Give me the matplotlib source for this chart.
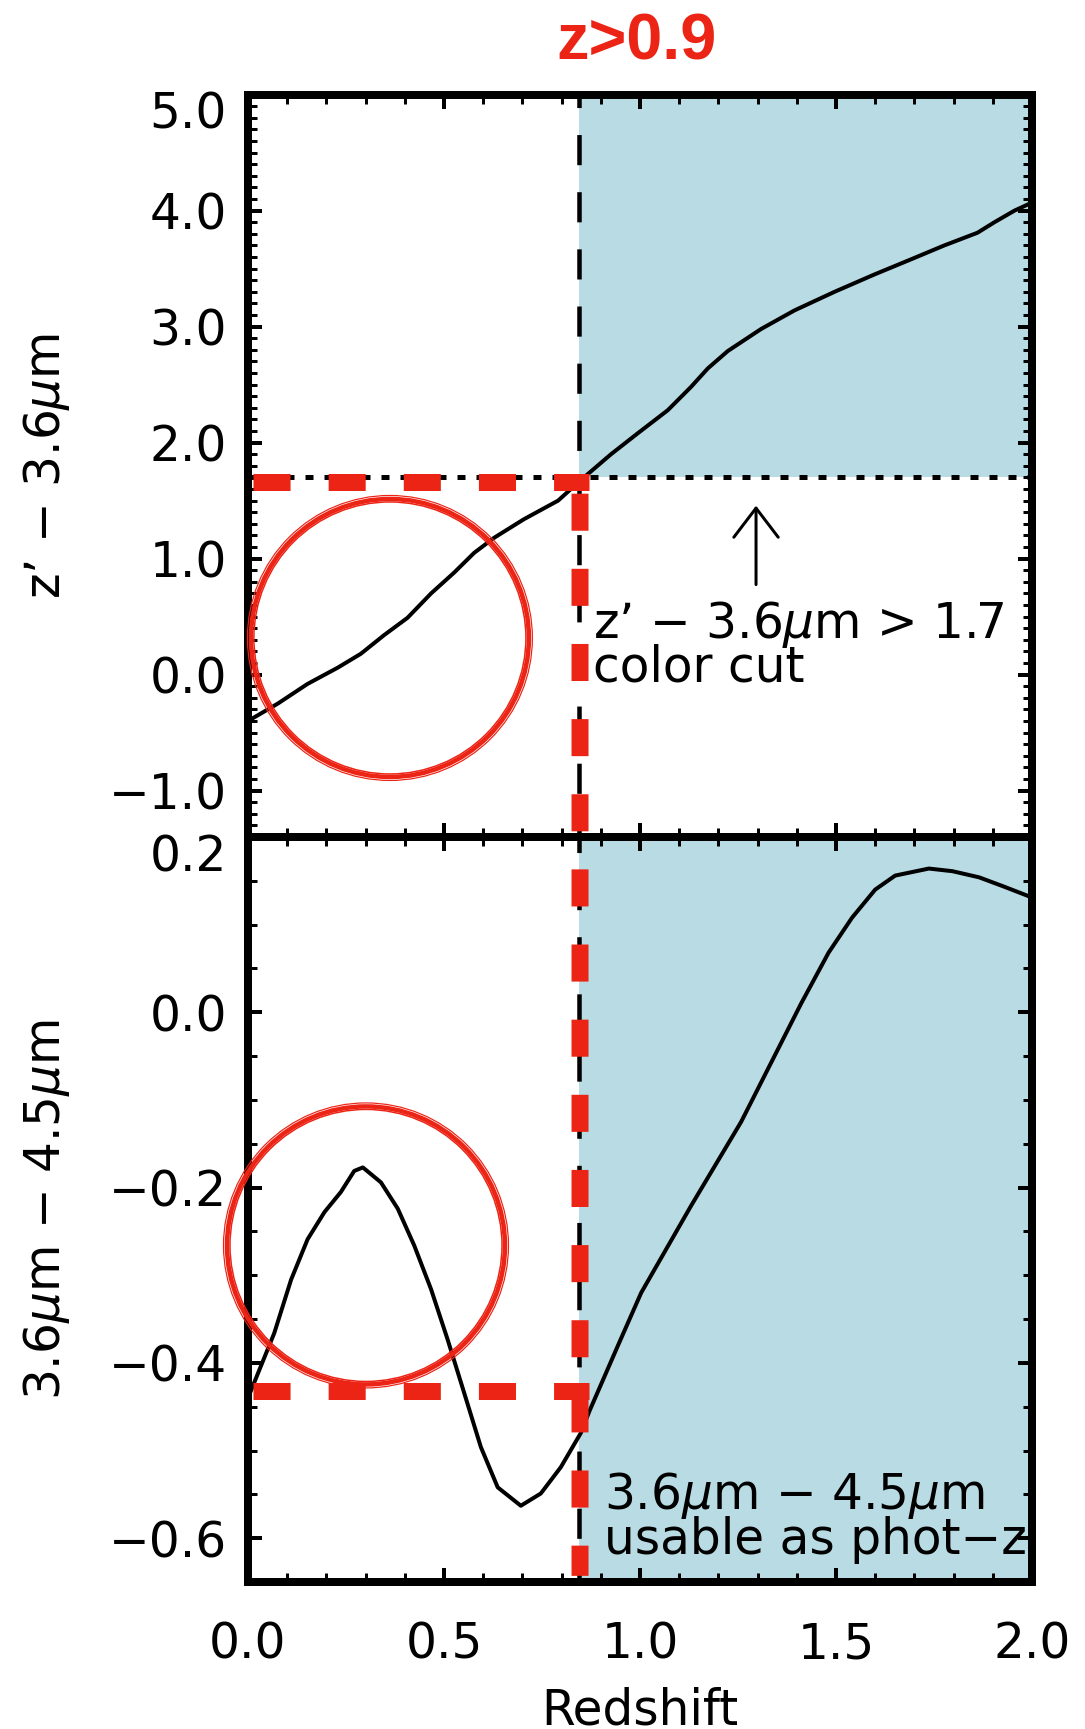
import matplotlib
matplotlib.use("Agg")
import matplotlib.pyplot as plt
from matplotlib.patches import ConnectionPatch
from matplotlib.ticker import MultipleLocator, FuncFormatter
from matplotlib.transforms import ScaledTranslation

# ---- data ----
z_top = [0.000, 0.076, 0.152, 0.229, 0.288, 0.347, 0.407, 0.467, 0.526, 0.577,
         0.628, 0.704, 0.791, 0.850, 0.926, 0.994, 1.071, 1.130, 1.173, 1.224,
         1.309, 1.394, 1.496, 1.598, 1.691, 1.776, 1.861, 1.904, 1.955, 2.000]
zp_36 = [-0.40, -0.25, -0.08, 0.06, 0.18, 0.34, 0.49, 0.70, 0.88, 1.05,
         1.18, 1.34, 1.50, 1.68, 1.90, 2.08, 2.28, 2.48, 2.64, 2.79,
         2.98, 3.14, 3.30, 3.45, 3.58, 3.70, 3.81, 3.90, 4.00, 4.07]

z_bot = [0.000, 0.067, 0.110, 0.152, 0.195, 0.237, 0.271, 0.293, 0.339, 0.382,
         0.424, 0.467, 0.509, 0.552, 0.594, 0.637, 0.696, 0.747, 0.798, 0.849,
         0.871, 0.943, 1.003, 1.130, 1.258, 1.411, 1.481, 1.541, 1.600, 1.651,
         1.737, 1.797, 1.865, 1.925, 2.000]
c36_45 = [-0.440, -0.366, -0.305, -0.259, -0.228, -0.205, -0.181, -0.177, -0.194, -0.224,
          -0.266, -0.316, -0.373, -0.435, -0.496, -0.542, -0.563, -0.549, -0.519, -0.480,
          -0.455, -0.381, -0.320, -0.221, -0.125, 0.010, 0.068, 0.108, 0.140, 0.156,
          0.164, 0.161, 0.154, 0.144, 0.131]

z_cut = 0.845          # redshift where the shaded region starts
color_cut = 1.7        # z' - 3.6um colour cut
red_top_y = 1.66       # red dashed guide, top panel
red_bot_y = -0.432     # red dashed guide, bottom panel
red_x_range = [0.012, 0.870]
red_v_range = [1.56, -0.643]
circle_top = (0.362, 0.316)
circle_bot = (0.301, -0.266)
arrow_x = 1.296
arrow_y = [0.776, 1.457]

x_ticks = [0.0, 0.5, 1.0, 1.5, 2.0]
y_ticks_top = [-1.0, 0.0, 1.0, 2.0, 3.0, 4.0, 5.0]
y_ticks_bot = [-0.6, -0.4, -0.2, 0.0, 0.2]

# ---- style ----
PX = 72 / 100.0
RED = "#EC2415"
BLUE = "#B9DBE3"
plt.rcParams["font.family"] = ["DejaVu Sans"]
plt.rcParams["mathtext.fontset"] = "dejavusans"

fig = plt.figure(figsize=(10.85, 17.29), dpi=100)
ax1 = fig.add_axes([0.22857, 0.51591, 0.72258, 0.42932])
ax2 = fig.add_axes([0.22857, 0.08502, 0.72258, 0.43088])

fmt = FuncFormatter(lambda v, p: f"{v:.1f}".replace("-", "\u2212"))

for ax in (ax1, ax2):
    ax.set_xlim(0, 2.0)
    ax.set_xticks(x_ticks)
    ax.xaxis.set_minor_locator(MultipleLocator(0.1))
    ax.xaxis.set_major_formatter(fmt)
    ax.yaxis.set_major_formatter(fmt)
    for s in ax.spines.values():
        s.set_linewidth(8 * PX)
        s.set_zorder(6)
    ax.tick_params(which="both", direction="in", top=True, right=True,
                   labelsize=35, colors="black")
    ax.tick_params(which="major", length=14 * PX, width=4 * PX)
    ax.tick_params(which="minor", length=9 * PX, width=3 * PX)
    ax.tick_params(axis="x", pad=38 * PX)
    ax.tick_params(axis="y", pad=21 * PX)

# top panel
ax1.set_ylim(-1.4, 5.0)
ax1.set_yticks(y_ticks_top)
ax1.yaxis.set_minor_locator(MultipleLocator(0.1))
ax1.tick_params(labelbottom=False)
ax1.fill_between([z_cut, 2.0], color_cut, 5.0, color=BLUE, lw=0, zorder=0)
ax1.axvline(z_cut, color="black", lw=4.5 * PX, ls=(3, (6.7, 6.0)), zorder=2)
ax1.axhline(color_cut, color="black", lw=5 * PX, ls=(0, (1.6, 2.2)), zorder=2)
ax1.plot(z_top, zp_36, color="black", lw=4 * PX, zorder=3)
ax1.set_ylabel("z\u2019 \u2212 3.6$\\mu$m", fontsize=35)
ax1.yaxis.set_label_coords(-0.225, 0.5)
ax1.annotate("", xy=(arrow_x, arrow_y[1]), xytext=(arrow_x, arrow_y[0]),
             arrowprops=dict(arrowstyle="->, head_length=0.42, head_width=0.32",
                             lw=3 * PX, color="black", mutation_scale=50,
                             shrinkA=0, shrinkB=0))
ax1.text(0.880, 0.313, "z\u2019 \u2212 3.6$\\mu$m > 1.7", fontsize=35, zorder=4)
ax1.text(0.880, -0.06, "color cut", fontsize=35, zorder=4)

# bottom panel
ax2.set_ylim(-0.65, 0.2)
ax2.set_yticks(y_ticks_bot)
ax2.yaxis.set_minor_locator(MultipleLocator(0.05))
ax2.axvspan(z_cut, 2.0, color=BLUE, lw=0, zorder=0)
ax2.axvline(z_cut, color="black", lw=4.5 * PX, ls=(3, (6.7, 6.0)), zorder=2)
ax2.plot(z_bot, c36_45, color="black", lw=4 * PX, zorder=3)
ax2.set_ylabel("3.6$\\mu$m \u2212 4.5$\\mu$m", fontsize=35)
ax2.yaxis.set_label_coords(-0.225, 0.5)
ax2.set_xlabel("Redshift", fontsize=35, va="top")
ax2.xaxis.set_label_coords(0.5, -0.14)
ax2.text(0.907, -0.567, "3.6$\\mu$m \u2212 4.5$\\mu$m", fontsize=35, zorder=4)
ax2.text(0.907, -0.618, "usable as phot\u2212z", fontsize=35, zorder=4)

# the topmost y label of each panel sits a little lower, inside the frame
fig.canvas.draw()
shift = ScaledTranslation(0, -15 / 100.0, fig.dpi_scale_trans)
for ax in (ax1, ax2):
    top_lbl = ax.yaxis.get_major_ticks()[-1].label1
    top_lbl.set_transform(top_lbl.get_transform() + shift)

# red overlay: dashed guides and hand-drawn circles
red_lw = 17 * PX
red_ls = (0, (2.18, 2.24))
ax1.plot(red_x_range, [red_top_y] * 2, color=RED, lw=red_lw, ls=red_ls,
         clip_on=False, zorder=7)
ax2.plot(red_x_range, [red_bot_y] * 2, color=RED, lw=red_lw, ls=red_ls,
         clip_on=False, zorder=7)
con = ConnectionPatch(xyA=(z_cut + 0.002, red_v_range[0]), coordsA="data", axesA=ax1,
                      xyB=(z_cut + 0.002, red_v_range[1]), coordsB="data", axesB=ax2,
                      color=RED, lw=red_lw, ls=red_ls, shrinkA=0, shrinkB=0,
                      capstyle="butt", zorder=7)
fig.add_artist(con)

for ax, c in ((ax1, circle_top), (ax2, circle_bot)):
    for d, w in ((278, 4.5), (272, 1.5), (285, 1.2), (276, 1.0)):
        ax.scatter([c[0]], [c[1]], s=(d * PX) ** 2, marker="o", facecolors="none",
                   edgecolors=RED, linewidths=w * PX, clip_on=False, zorder=8)

fig.text(0.587, 0.9653, "z>0.9", color=RED, fontsize=46.6, fontweight="bold",
         family=["Liberation Sans", "DejaVu Sans"], ha="center", va="baseline")

fig.savefig("out.png", dpi=100)
